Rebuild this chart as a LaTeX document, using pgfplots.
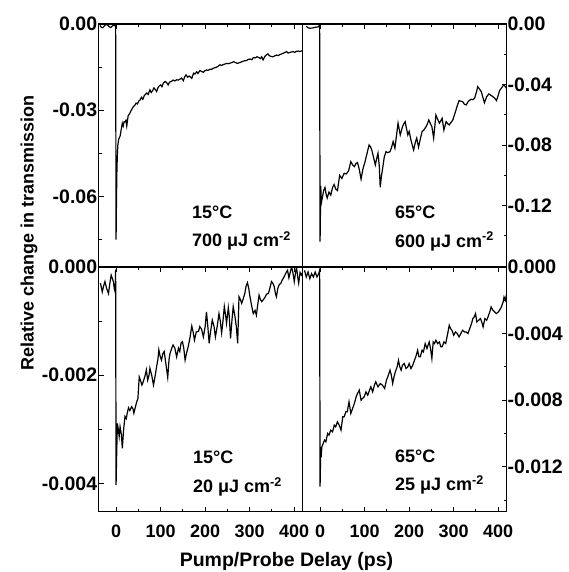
\documentclass[border=0pt]{standalone}
\usepackage{fontspec}
\setmainfont{Liberation Sans}
\usepackage{pgfplots}
\pgfplotsset{compat=1.18}

\newcommand\lab{\fontsize{18}{21}\selectfont\bfseries}
\newcommand\ylab{\fontsize{19.5}{21}\selectfont\bfseries}

\pgfplotsset{
  panel/.style={
    scale only axis,
    width=204pt,
    xmin=-39, xmax=419,
    xtick={0,100,200,300,400},
    minor x tick num=1,
    scaled y ticks=false,
    tick align=inside,
    major tick length=5pt,
    minor tick length=3pt,
    axis line style={line width=1.4pt},
    tick style={line width=1pt, black},
    xticklabel style={font=\lab},
    yticklabel style={font=\ylab},
    every axis plot post/.append style={line width=1.2pt, black, mark=none},
  },
  leftpanel/.style={ytick pos=left, yticklabel style={xshift=2pt}},
  rightpanel/.style={ytick pos=right, yticklabel pos=right, yticklabel style={xshift=-2.7pt}},
  toppanel/.style={height=243pt, xtick pos=right, xticklabel=\empty},
  bottompanel/.style={height=244.7pt, xtick pos=both, xticklabels={0,100,200,300,400},
    xticklabel style={anchor=base, yshift=-25.3pt}},
}

\begin{document}
\begin{tikzpicture}
\useasboundingbox (0pt,0pt) rectangle (568pt,572pt);

% 15 C, 700 uJ cm-2
\begin{axis}[panel, leftpanel, toppanel,
  at={(98.7pt,305pt)}, anchor=south west,
  ymin=-0.0845, ymax=0,
  ytick={-0.06,-0.03,0}, yticklabels={-0.06,-0.03,0.00},
  minor ytick={-0.075,-0.045,-0.015}]
\addplot coordinates {
(-36,-0.0005) (-33,-0.0012) (-30,-0.0013) (-27,-0.0008) (-24,-0.0003) (-21,-0.0002)
(-18,-0.0005) (-15,-0.0010) (-12,-0.0012) (-9,-0.0008) (-6,-0.0004) (-3,-0.0006)
(-1,0) (0,-0.075) (1,-0.060) (2,-0.050) (3,-0.045) (4,-0.042) (6,-0.040) (9,-0.039)
(12,-0.0363) (14,-0.0345) (16,-0.0355) (18,-0.034) (20,-0.034) (22,-0.0335) (24,-0.0355)
(27,-0.032) (31,-0.031) (34,-0.030) (37,-0.0292) (39,-0.0287) (42,-0.0283) (45,-0.0275)
(48,-0.0278) (51,-0.0268) (54,-0.0264) (57,-0.0255) (60,-0.0262) (63,-0.0250) (66,-0.0244)
(69,-0.0240) (72,-0.0245) (76,-0.0229) (79,-0.0238) (82,-0.0232) (85,-0.0222) (88,-0.0228)
(91,-0.0235) (94,-0.0222) (97,-0.0215) (100,-0.0212) (103,-0.0218) (106,-0.0206) (110,-0.0200)
(113,-0.0203) (117,-0.0212) (120,-0.0202) (124,-0.0200) (128,-0.0195) (132,-0.0198) (136,-0.0194)
(140,-0.0195) (143,-0.0192) (147,-0.0188) (151,-0.0197) (154,-0.0184) (157,-0.0177) (161,-0.0185)
(164,-0.0181) (167,-0.0184) (170,-0.0189) (174,-0.0171) (177,-0.0174) (181,-0.0166) (184,-0.0172)
(188,-0.0162) (192,-0.0165) (196,-0.0168) (199,-0.0163) (203,-0.0160) (207,-0.0161) (211,-0.0157)
(214,-0.0158) (218,-0.0154) (222,-0.0152) (226,-0.0150) (230,-0.0146) (233,-0.0142) (237,-0.0144)
(241,-0.0141) (245,-0.0139) (248,-0.0137) (252,-0.0138) (256,-0.0136) (260,-0.0134) (264,-0.0131)
(268,-0.0134) (272,-0.0137) (276,-0.0135) (280,-0.0133) (284,-0.0130) (288,-0.0128) (293,-0.0127)
(297,-0.0123) (301,-0.0122) (305,-0.0124) (308,-0.0117) (312,-0.0118) (316,-0.0114) (320,-0.0116)
(324,-0.0120) (327,-0.0114) (330,-0.0125) (334,-0.0113) (337,-0.0108) (341,-0.0104) (344,-0.0110)
(348,-0.0113) (352,-0.0114) (356,-0.0111) (360,-0.0108) (364,-0.0110) (368,-0.0106) (372,-0.0104)
(375,-0.0102) (379,-0.0099) (383,-0.0096) (386,-0.0101) (390,-0.0099) (394,-0.0097) (398,-0.0096)
(401,-0.0099) (405,-0.0095) (409,-0.0094) (413,-0.0096) (417,-0.0093)
};
\node[anchor=base west, inner sep=0, font=\lab] at (axis description cs:0.457,0.200) {15°C};
\node[anchor=base west, inner sep=0, font=\lab] at (axis description cs:0.457,0.0835) {700 μJ cm\textsuperscript{-2}};
\end{axis}

% 65 C, 600 uJ cm-2
\begin{axis}[panel, rightpanel, toppanel,
  at={(302.7pt,305pt)}, anchor=south west,
  ymin=-0.1605, ymax=0,
  ytick={-0.12,-0.08,-0.04,0}, yticklabels={-0.12,-0.08,-0.04,0.00},
  minor ytick={-0.14,-0.10,-0.06,-0.02}]
\addplot coordinates {
(-31,-0.0015) (-27,-0.0025) (-23,-0.0028) (-19,-0.0027) (-15,-0.0025) (-11,-0.0022) (-7,-0.002)
(-3,-0.0018) (-1,0) (0,-0.1437) (1.5,-0.107) (3,-0.118) (5,-0.115) (8,-0.110) (11,-0.108)
(14,-0.113) (16,-0.115) (20,-0.111) (24,-0.113) (28,-0.108) (31.5,-0.106) (35,-0.109) (39,-0.110)
(44,-0.100) (49,-0.102) (54,-0.0986) (59,-0.099) (64,-0.097) (69,-0.0909) (73,-0.093) (77,-0.0942)
(81,-0.092) (84,-0.0915) (88,-0.096) (92,-0.1025) (96,-0.096) (101,-0.0909) (105,-0.086) (110,-0.0799)
(113,-0.081) (116,-0.0832) (120,-0.088) (124,-0.0931) (127,-0.089) (130,-0.0853) (133,-0.094)
(135,-0.1078) (138,-0.100) (140,-0.0964) (144,-0.088) (148,-0.0843) (152,-0.085) (157,-0.0843)
(160,-0.082) (164,-0.0777) (168,-0.082) (171,-0.075) (175,-0.0655) (180,-0.0733) (185,-0.0678)
(188,-0.066) (191,-0.0645) (194,-0.069) (197,-0.0733) (200,-0.071) (204,-0.0766) (207,-0.080)
(210,-0.0832) (214,-0.078) (217,-0.0754) (221,-0.0814) (225,-0.076) (229,-0.0711) (233,-0.070)
(238,-0.0678) (241,-0.066) (244,-0.0634) (248,-0.066) (251,-0.0678) (255,-0.0754) (260,-0.0601)
(264,-0.063) (268,-0.0655) (271,-0.064) (274,-0.0623) (278,-0.070) (283,-0.0645) (287,-0.066)
(290,-0.0667) (294,-0.065) (298,-0.0634) (304,-0.0579) (308,-0.054) (312,-0.0506) (316,-0.051)
(320,-0.0513) (324,-0.053) (328,-0.0535) (333,-0.051) (339,-0.0497) (343,-0.050) (347,-0.049)
(351,-0.045) (354,-0.0414) (358,-0.043) (362,-0.0447) (366,-0.049) (369,-0.052) (374,-0.048)
(379,-0.0462) (383,-0.047) (388,-0.048) (392,-0.049) (396,-0.0506) (400,-0.047) (403,-0.044)
(408,-0.042) (412,-0.0403) (415,-0.041) (418,-0.0424)
};
\node[anchor=base west, inner sep=0, font=\lab] at (axis description cs:0.452,0.200) {65°C};
\node[anchor=base west, inner sep=0, font=\lab] at (axis description cs:0.452,0.082) {600 μJ cm\textsuperscript{-2}};
\end{axis}

% 15 C, 20 uJ cm-2
\begin{axis}[panel, leftpanel, bottompanel,
  at={(98.7pt,60.3pt)}, anchor=south west,
  ymin=-0.00452, ymax=0,
  ytick={-0.004,-0.002,0}, yticklabels={-0.004,-0.002,0.000},
  minor ytick={-0.003,-0.001}]
\addplot coordinates {
(-35,-0.00030) (-31,-0.00046) (-28,-0.00035) (-25,-0.00027) (-21,-0.00040) (-17,-0.00049)
(-14,-0.00030) (-11,-0.00015) (-8,-0.00022) (-6,-0.00027) (-4,-0.00040) (-2,-0.00046)
(-1,-0.00005) (0,-0.00403) (1.5,-0.0034) (3,-0.00289) (5,-0.00300) (7,-0.00313) (9,-0.00295)
(12,-0.0031) (14,-0.00335) (17,-0.0030) (20,-0.00276) (23,-0.0028) (25,-0.0027) (28,-0.0026)
(31,-0.00265) (35,-0.00258) (38,-0.00262) (40,-0.0027) (43,-0.0026) (46,-0.00250) (49,-0.00243)
(52,-0.00203) (55,-0.0021) (58,-0.00218) (61,-0.00212) (65,-0.00201) (68,-0.0019) (71,-0.00209)
(74,-0.00200) (76,-0.00187) (80,-0.0020) (84,-0.00218) (88,-0.0020) (91,-0.00184) (94,-0.0017)
(96,-0.00153) (99,-0.00165) (102,-0.00172) (105,-0.0016) (108,-0.00156) (112,-0.0018) (116,-0.00204)
(119,-0.0017) (121,-0.0016) (125,-0.0015) (128,-0.00144) (132,-0.0015) (136,-0.00166) (140,-0.0015)
(143,-0.00156) (146,-0.0014) (149,-0.00138) (152,-0.0015) (155,-0.00172) (158,-0.0016) (162,-0.00147)
(166,-0.0013) (170,-0.00109) (173,-0.0012) (176,-0.00135) (180,-0.0012) (185,-0.00119) (188,-0.0011)
(192,-0.00115) (196,-0.00129) (200,-0.0011) (203,-0.00083) (206,-0.0011) (209,-0.00141) (212,-0.0012)
(216,-0.00098) (220,-0.0011) (223,-0.00129) (227,-0.0011) (231,-0.00086) (234,-0.0010) (237,-0.00122)
(240,-0.0010) (243,-0.00073) (246,-0.0009) (248,-0.00104) (252,-0.00075) (254,-0.0009) (257,-0.00132)
(260,-0.0010) (263,-0.00073) (267,-0.00092) (270,-0.0011) (273,-0.00141) (276,-0.00055) (279,-0.0006)
(282,-0.00067) (285,-0.0006) (289,-0.00049) (292,-0.00035) (295,-0.00029) (298,-0.0004) (300,-0.00052)
(304,-0.0007) (308,-0.00086) (312,-0.0008) (315,-0.00089) (318,-0.0007) (321,-0.00052) (324,-0.0006)
(327,-0.00064) (331,-0.0006) (335,-0.00055) (338,-0.0005) (342,-0.00049) (345,-0.0004) (349,-0.00027)
(352,-0.0003) (355,-0.00036) (358,-0.0005) (360,-0.00055) (363,-0.0004) (366,-0.00033) (370,-0.0003)
(373,-0.00024) (376,-0.0002) (379,-0.00015) (382,-0.0001) (385,-0.00006) (388,-0.0002) (391,-0.0001)
(394,0) (397,-0.0001) (400,-0.00027) (403,-0.0001) (405,0) (408,-0.0002) (410,-0.0003) (413,-0.0001)
(416,-0.00015) (419,-0.0001)
};
\node[anchor=base west, inner sep=0, font=\lab] at (axis description cs:0.462,0.195) {15°C};
\node[anchor=base west, inner sep=0, font=\lab] at (axis description cs:0.462,0.078) {20 μJ cm\textsuperscript{-2}};
\end{axis}

% 65 C, 25 uJ cm-2
\begin{axis}[panel, rightpanel, bottompanel,
  at={(302.7pt,60.3pt)}, anchor=south west,
  ymin=-0.0147, ymax=0,
  ytick={-0.012,-0.008,-0.004,0}, yticklabels={-0.012,-0.008,-0.004,0.000},
  minor ytick={-0.014,-0.010,-0.006,-0.002}]
\addplot coordinates {
(-35,-0.0002) (-31,-0.0006) (-27,-0.0003) (-23,-0.0007) (-19,-0.0004) (-15,-0.0006) (-11,-0.0003)
(-7,-0.0006) (-3,-0.0004) (-1,-0.0002) (0,-0.0132) (1.5,-0.0110) (3,-0.0112) (4,-0.0108) (7,-0.0106)
(10,-0.0104) (13,-0.0105) (17,-0.0100) (20,-0.0101) (24,-0.0098) (28,-0.0099) (32,-0.0095)
(35,-0.0096) (39,-0.0093) (43,-0.0095) (47,-0.0098) (51,-0.0090) (54,-0.0090) (58,-0.0087)
(61,-0.0087) (65,-0.0081) (69,-0.0088) (73,-0.0085) (77,-0.0082) (81,-0.0078) (84,-0.0076)
(88,-0.0074) (92,-0.0080) (95,-0.0079) (99,-0.0078) (103,-0.0075) (107,-0.0077) (111,-0.0074)
(114,-0.0072) (118,-0.0075) (122,-0.0071) (125,-0.0069) (130,-0.0072) (135,-0.0070) (140,-0.0071)
(145,-0.0073) (149,-0.0068) (152,-0.0066) (157,-0.0062) (160,-0.0065) (163,-0.0070) (166,-0.0066)
(169,-0.0063) (173,-0.0060) (176,-0.0056) (179,-0.0060) (182,-0.0062) (185,-0.0059) (189,-0.0058)
(193,-0.0061) (197,-0.0060) (200,-0.0058) (204,-0.0061) (208,-0.0059) (212,-0.0056) (216,-0.0053)
(219,-0.0050) (222,-0.0054) (225,-0.0054) (229,-0.0050) (232,-0.0051) (236,-0.0046) (240,-0.0049)
(245,-0.0045) (248,-0.0049) (251,-0.0055) (254,-0.0045) (257,-0.0046) (260,-0.0044) (264,-0.0046)
(268,-0.0045) (271,-0.0048) (274,-0.0048) (278,-0.0045) (282,-0.0046) (285,-0.0042) (288,-0.0038)
(290,-0.0035) (293,-0.0037) (296,-0.0038) (300,-0.0041) (304,-0.0039) (308,-0.0040) (312,-0.0042)
(316,-0.0040) (320,-0.0038) (324,-0.0039) (328,-0.0039) (332,-0.0040) (336,-0.0037) (340,-0.0034)
(343,-0.0031) (346,-0.0030) (349,-0.0028) (352,-0.0033) (356,-0.0032) (360,-0.0031) (363,-0.0033)
(366,-0.0036) (370,-0.0031) (374,-0.0032) (377,-0.0030) (381,-0.0027) (384,-0.0024) (388,-0.0026)
(392,-0.0027) (396,-0.0028) (400,-0.0027) (403,-0.0026) (407,-0.0024) (411,-0.0021) (413,-0.0018)
(416,-0.0020) (419,-0.0016)
};
\node[anchor=base west, inner sep=0, font=\lab] at (axis description cs:0.452,0.200) {65°C};
\node[anchor=base west, inner sep=0, font=\lab] at (axis description cs:0.452,0.086) {25 μJ cm\textsuperscript{-2}};
\end{axis}

\node[rotate=90, anchor=base, inner sep=0, font=\lab] at (33.5pt,339pt) {Relative change in transmission};
\node[anchor=base, inner sep=0, font=\fontsize{19.5}{21}\selectfont\bfseries] at (286.5pt,5.3pt) {Pump/Probe Delay (ps)};
\end{tikzpicture}
\end{document}
